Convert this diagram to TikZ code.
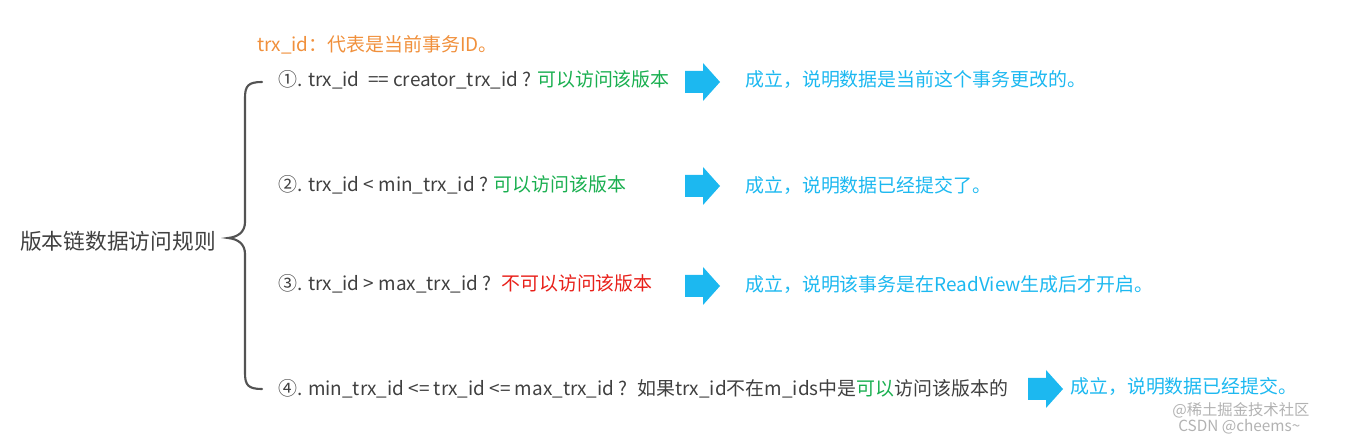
\documentclass[tikz,border=0pt]{standalone}
\usepackage{fontspec}
\setmainfont{Noto Sans CJK SC}
\definecolor{tgray}{HTML}{404040}
\definecolor{torange}{HTML}{F0903C}
\definecolor{tgreen}{HTML}{1AAF50}
\definecolor{tred}{HTML}{E8201A}
\definecolor{tblue}{HTML}{1CB8F0}
\begin{document}
\begin{tikzpicture}[x=0.75pt,y=-0.75pt,
  txt/.style={anchor=west,inner sep=0pt,font=\fontsize{14.2}{17}\selectfont,text=tgray},
  res/.style={txt,text=tblue},
  blk/.style={fill=tblue,draw=none}]
\useasboundingbox (0,0) rectangle (1346,441);
\node[txt,text=torange] (t) at (257,45) {trx\_id：代表是当前事务ID。};
\node[txt,font=\fontsize{16.3}{19}\selectfont] (lab) at (20,241) {版本链数据访问规则};
\node[txt] (r1) at (278,80) {①. trx\_id \ == creator\_trx\_id ? \textcolor{tgreen}{可以访问该版本}};
\node[txt] (r2) at (278,185) {②. trx\_id < min\_trx\_id ? \textcolor{tgreen}{可以访问该版本}};
\node[txt] (r3) at (278,284) {③. trx\_id > max\_trx\_id ? \ \textcolor{tred}{不可以访问该版本}};
\node[txt] (r4) at (278,389) {④. min\_trx\_id <= trx\_id <= max\_trx\_id ? \ 如果trx\_id不在m\_ids中是\textcolor{tgreen}{可以}访问该版本的};
\node[res] (s1) at (745,80) {成立，说明数据是当前这个事务更改的。};
\node[res] (s2) at (745,185) {成立，说明数据已经提交了。};
\node[res] (s3) at (745,285) {成立，说明该事务是在ReadView生成后才开启。};
\node[res] (s4) at (1070,386) {成立，说明数据已经提交。};
\foreach \x/\y in {685/82,685/186,685/286,1028/389}{
  \fill[blk] (\x,\y-11) -- (\x+18,\y-11) -- (\x+18,\y-19) -- (\x+35,\y) -- (\x+18,\y+19) -- (\x+18,\y+11) -- (\x,\y+11) -- cycle;
}
\draw[tgray!90,line width=1.6pt,line cap=round]
  (262,82) .. controls (248,82) and (245,86) .. (245,98) -- (245,222)
  .. controls (245,232) and (238,237) .. (228,238)
  .. controls (238,239) and (245,244) .. (245,254) -- (245,373)
  .. controls (245,385) and (248,389) .. (262,389);
\node[txt,text=gray!60,font=\fontsize{11.5}{13}\selectfont] (w1) at (1172,410) {@稀土掘金技术社区};
\node[txt,text=gray!60,font=\fontsize{11.5}{13}\selectfont] (w2) at (1178,427) {CSDN @cheems\textasciitilde};
\end{tikzpicture}
\end{document}
